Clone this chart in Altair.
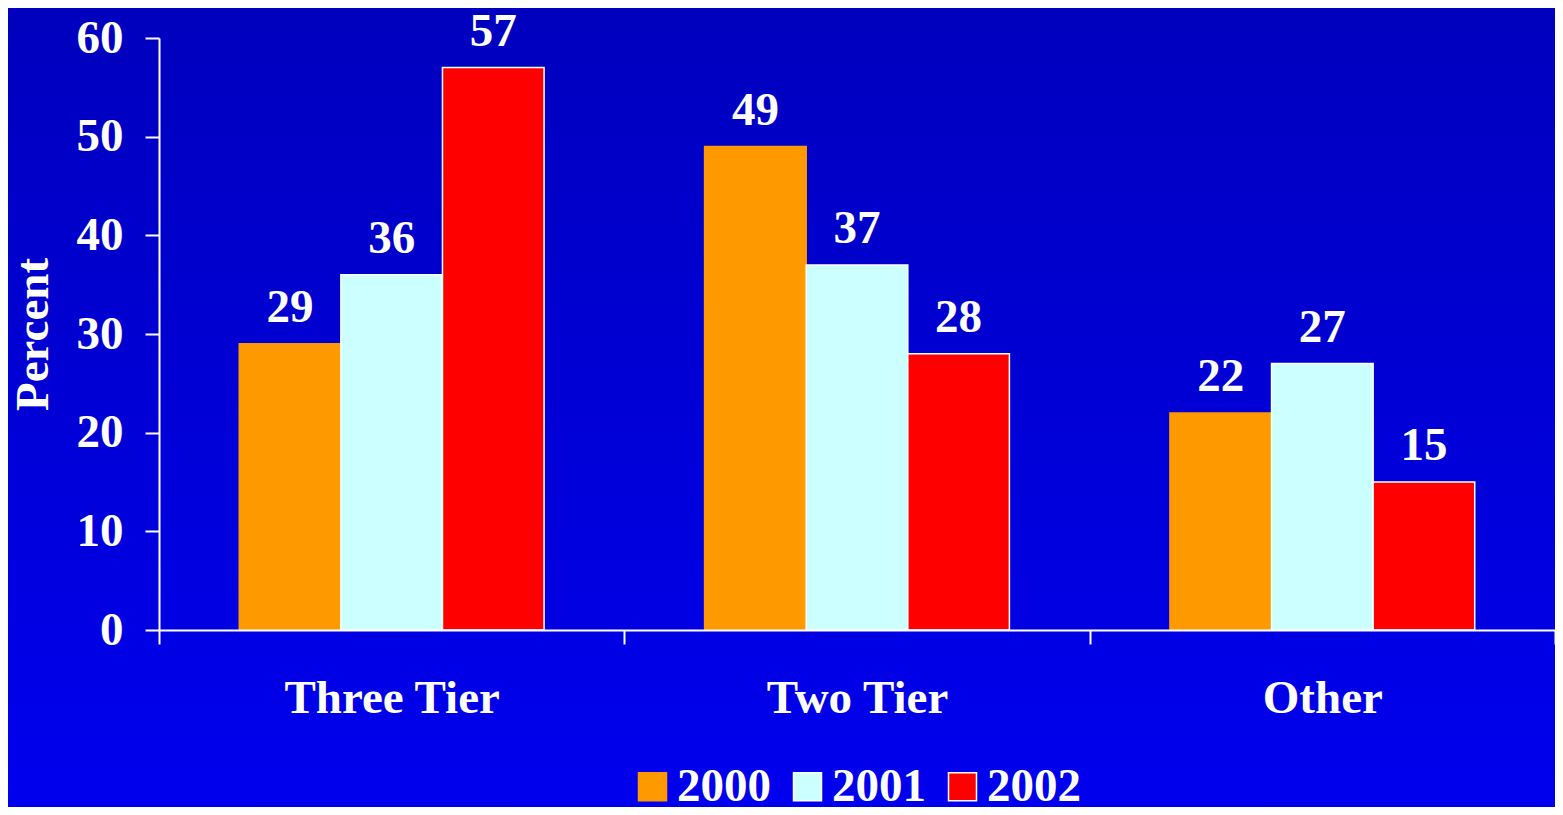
import altair as alt
import pandas as pd

categories = ["Three Tier", "Two Tier", "Other"]
years = ["2000", "2001", "2002"]
values_2000 = [29, 49, 22]
values_2001 = [36, 37, 27]
values_2002 = [57, 28, 15]
colors = ["#FF9900", "#CCFFFF", "#FF0000"]
strokes = ["#FF9900", "#FFFFFF", "#FFFFFF"]
y_ticks = [0, 10, 20, 30, 40, 50, 60]

rows = []
for i, c in enumerate(categories):
    for yr, vals in zip(years, [values_2000, values_2001, values_2002]):
        rows.append({"category": c, "year": yr, "value": vals[i]})
df = pd.DataFrame(rows)

W, H = 1396, 592
PAD = {"left": 151, "top": 30, "right": 0, "bottom": 177}
FONT = "Liberation Serif"
FS = 47

x_enc = alt.X(
    "category:N", sort=categories, title=None,
    scale=alt.Scale(paddingInner=0, paddingOuter=0),
    axis=alt.Axis(labelAngle=0, tickBand="extent", tickSize=14, tickWidth=2,
                  domainWidth=2, domainColor="white", tickColor="white",
                  labelColor="white", labelFont=FONT, labelFontSize=FS,
                  labelFontWeight="bold", labelPadding=31, labelLimit=600,
                  zindex=1),
)
xo_enc = alt.XOffset("year:N", sort=years,
                     scale=alt.Scale(paddingInner=0, paddingOuter=0.79))
y_enc = alt.Y(
    "value:Q", title="Percent",
    scale=alt.Scale(domain=[0, 60], nice=False),
    axis=alt.Axis(values=y_ticks, grid=False, tickSize=14, tickWidth=2,
                  domainWidth=2, domainColor="white", tickColor="white",
                  labelColor="white", labelFont=FONT, labelFontSize=FS,
                  labelFontWeight="bold", labelPadding=22,
                  titleColor="white", titleFont=FONT, titleFontSize=FS,
                  titleFontWeight="bold", titlePadding=19, zindex=1),
)

bg = alt.Chart(pd.DataFrame({"a": [0]})).mark_rect(
    color=alt.Gradient(
        gradient="linear",
        stops=[alt.GradientStop(color="#0000BE", offset=0),
               alt.GradientStop(color="#0000EE", offset=1)],
        x1=0, x2=0, y1=0, y2=1,
    )
).encode(
    x=alt.value(-PAD["left"]), x2=alt.value(W + PAD["right"]),
    y=alt.value(-PAD["top"]), y2=alt.value(H + PAD["bottom"]),
)

base = alt.Chart(df)

bars = base.mark_bar(strokeWidth=1.5).encode(
    x=x_enc, xOffset=xo_enc, y=y_enc,
    color=alt.Color(
        "year:N", sort=years, title=None,
        scale=alt.Scale(domain=years, range=colors),
        legend=alt.Legend(orient="none", legendX=470, legendY=725,
                          direction="horizontal", columns=3,
                          symbolType="square", symbolSize=784,
                          symbolStrokeColor="white", symbolStrokeWidth=1.5,
                          symbolOpacity=1,
                          labelColor="white", labelFont=FONT,
                          labelFontSize=FS, labelFontWeight="bold",
                          labelOffset=1, columnPadding=13, zindex=1),
    ),
    stroke=alt.Stroke("year:N", scale=alt.Scale(domain=years, range=strokes),
                      legend=None),
)

labels = base.mark_text(
    dy=-22, baseline="alphabetic", align="center", font=FONT,
    fontSize=FS, fontWeight="bold", color="white",
).encode(x=x_enc, xOffset=xo_enc, y=y_enc, text="value:Q")

chart = alt.layer(bg, bars, labels).properties(
    width=W, height=H,
    padding=PAD,
    autosize=alt.AutoSizeParams(type="none"),
    background="#0000D6",
).configure_view(strokeWidth=0)

chart.save("out.html", embed_options={"renderer": "svg", "actions": False})
